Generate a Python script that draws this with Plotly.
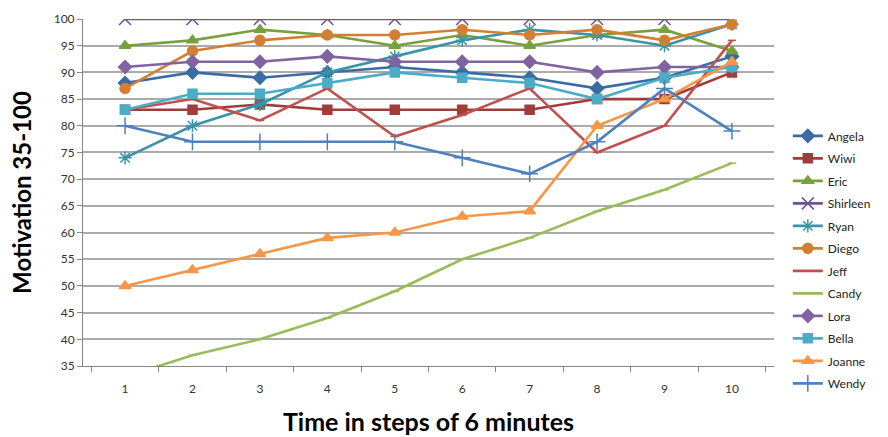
import plotly.graph_objects as go

steps = ["1", "2", "3", "4", "5", "6", "7", "8", "9", "10"]

angela   = [88, 90, 89, 90, 91, 90, 89, 87, 89, 93]
wiwi     = [83, 83, 84, 83, 83, 83, 83, 85, 85, 90]
eric     = [95, 96, 98, 97, 95, 97, 95, 97, 98, 94]
shirleen = [100, 100, 100, 100, 100, 100, 100, 100, 100, 100]
ryan     = [74, 80, 84, 90, 93, 96, 98, 97, 95, 99]
diego    = [87, 94, 96, 97, 97, 98, 97, 98, 96, 99]
jeff     = [83, 85, 81, 87, 78, 82, 87, 75, 80, 96]
candy    = [33, 37, 40, 44, 49, 55, 59, 64, 68, 73]
lora     = [91, 92, 92, 93, 92, 92, 92, 90, 91, 91]
bella    = [83, 86, 86, 88, 90, 89, 88, 85, 89, 91]
joanne   = [50, 53, 56, 59, 60, 63, 64, 80, 85, 92]
wendy    = [80, 77, 77, 77, 77, 74, 71, 77, 87, 79]

series = [
    ("Angela", angela, "#3A6BA5", "diamond", 10),
    ("Wiwi", wiwi, "#A03C3A", "square", 9),
    ("Eric", eric, "#78A03E", "triangle-up", 10),
    ("Shirleen", shirleen, "#6E5291", "x-thin-open", 12),
    ("Ryan", ryan, "#3B93A8", "asterisk-open", 11),
    ("Diego", diego, "#D37F33", "circle", 10),
    ("Jeff", jeff, "#C0504D", "line-ew-open", 6),
    ("Candy", candy, "#9BBB59", "line-ew-open", 6),
    ("Lora", lora, "#8064A2", "diamond", 10),
    ("Bella", bella, "#4BACC6", "square", 9),
    ("Joanne", joanne, "#F79646", "triangle-up", 10),
    ("Wendy", wendy, "#4F81BD", "cross-thin-open", 12),
]

fig = go.Figure()
for name, vals, color, sym, size in series:
    fig.add_trace(go.Scatter(
        x=steps, y=vals, name=name, mode="lines+markers",
        legendgroup=name,
        line=dict(color=color, width=2.6),
        marker=dict(symbol=sym, size=size, color=color,
                    line=dict(color=color, width=1.5)),
    ))

fig.update_layout(
    width=888, height=437,
    margin=dict(l=83, r=103, t=19, b=71),
    paper_bgcolor="white", plot_bgcolor="white",
    font=dict(family="Lato, Open Sans, sans-serif", size=12, color="#333333"),
    showlegend=True,
    legend=dict(x=1.02, xanchor="left", y=0.705, yanchor="top",
                font=dict(size=12, color="#222222"),
                tracegroupgap=3.5, itemwidth=30, bgcolor="rgba(0,0,0,0)"),
    xaxis=dict(
        type="category", tickson="boundaries", ticks="outside", ticklen=5,
        tickcolor="#868686", showline=True, linecolor="#868686", linewidth=1,
        showgrid=False, ticklabelstandoff=12, automargin=False,
        title=dict(text="Time in steps of 6 minutes",
                   font=dict(size=25, color="#000000", family="Lato, sans-serif"),
                   standoff=18),
    ),
    yaxis=dict(
        range=[35, 100], tick0=35, dtick=5, ticks="outside", ticklen=5,
        tickcolor="#868686", showline=True, linecolor="#868686", linewidth=1,
        showgrid=True, gridcolor="#ABABAB", gridwidth=1.5, zeroline=False,
        automargin=False,
        title=dict(text="Motivation 35-100",
                   font=dict(size=24, color="#000000", family="Lato, sans-serif"),
                   standoff=15),
    ),
)
fig.update_xaxes(title_font_weight="bold")
fig.update_yaxes(title_font_weight="bold")

fig.write_html("out.html")
